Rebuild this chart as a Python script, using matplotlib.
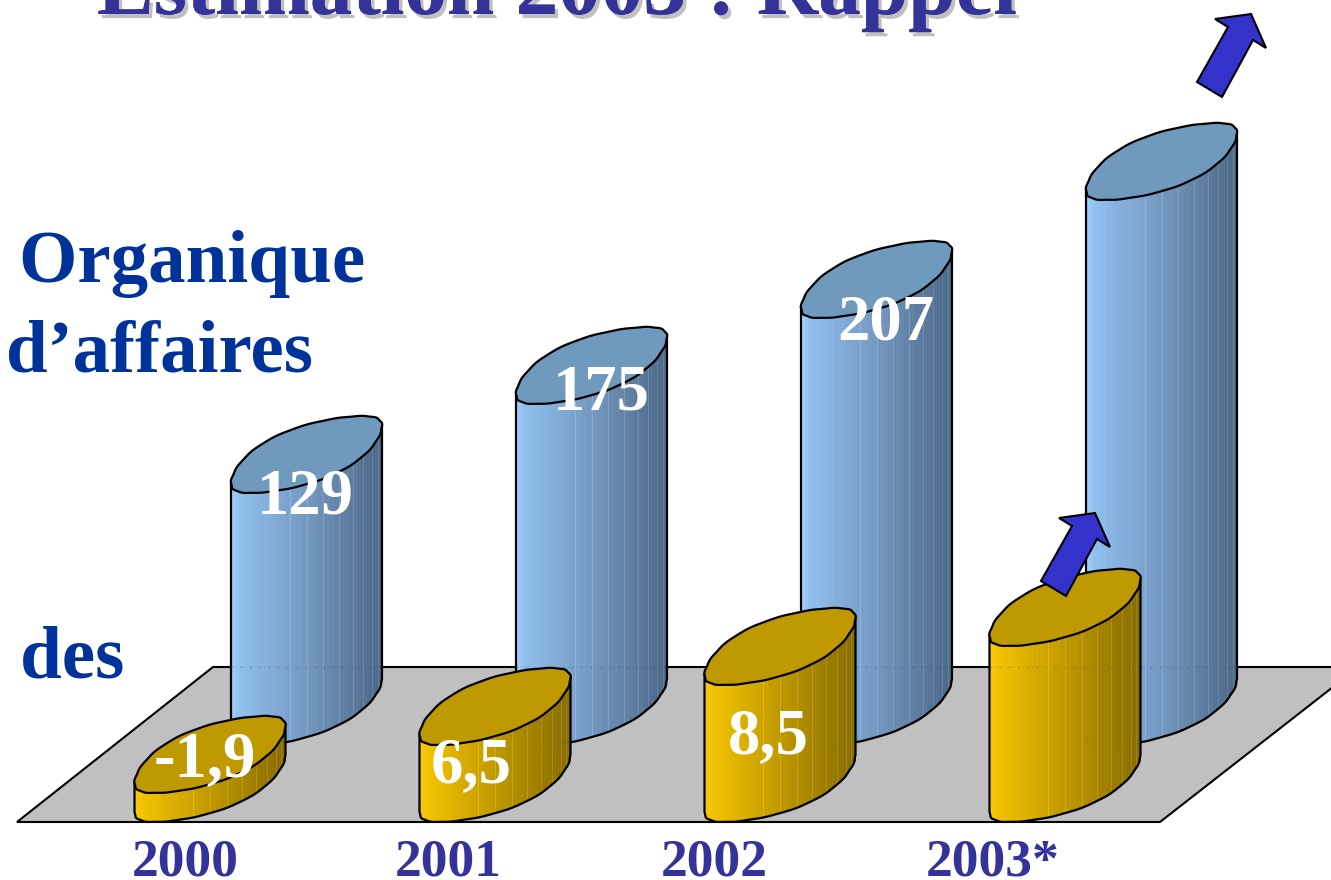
import numpy as np
import matplotlib
matplotlib.use("Agg")
import matplotlib.pyplot as plt
from matplotlib.patches import Polygon
from matplotlib.colors import to_rgb
import matplotlib.patheffects as pe

# ---- data ----
years = ["2000", "2001", "2002", "2003*"]
blue_labels = ["129", "175", "207", None]
gold_labels = ["-1,9", "6,5", "8,5", None]
# drawn column heights (the source chart is not to scale)
blue_heights = [253, 342, 428, 546]
gold_heights = [29, 77, 137, 176]

# ---- layout ----
plt.rcParams["font.family"] = ["Liberation Serif", "DejaVu Serif"]
plt.rcParams["font.weight"] = "bold"
W, H = 1331, 880
STEP = 285.0
GOLD_X0, BLUE_X0 = 134.5, 231.0
GOLD_BASE, BLUE_BASE = 822.0, 746.0
FLOOR_BACK = 667
BW, BH = 151.0, 77.0
ALPHA = 0.76
SQUARE = 0.14
RIPPLE = 0.005
BLACK_LW = 1.6

BLUE_RAMP = [(0.0, "#A3D0FF"), (0.06, "#8FBFEF"), (0.5, "#7398C0"), (1.0, "#4C6786")]
GOLD_RAMP = [(0.0, "#FFCC00"), (0.06, "#F2C200"), (0.5, "#C09900"), (1.0, "#876C00")]
BLUE_TOP, GOLD_TOP = "#7099BE", "#BF9900"
TITLE_C, YEAR_C, SIDE_C = "#333399", "#333399", "#003399"
ARROW_C = "#3333CC"

fig = plt.figure(figsize=(W / 100, H / 100), dpi=100, facecolor="white")
ax = fig.add_axes([0, 0, 1, 1])
ax.set_xlim(0, W)
ax.set_ylim(H, 0)
ax.axis("off")


def ramp(u, stops):
    xs = [s[0] for s in stops]
    cs = np.array([to_rgb(s[1]) for s in stops])
    return tuple(np.interp(u, xs, cs[:, k]) for k in range(3))


def fuller(v):
    return v * (1 + SQUARE * (1 - v ** 2))


def outline(t, x, bottom):
    """Slanted, slightly squared footprint; `bottom` is the y of its lowest point."""
    cy = bottom - BH / 2
    r = 1 + RIPPLE * np.sin(17 * t)
    return (x + BW / 2 + BW / 2 * fuller(np.cos(t)) * r,
            cy - BH / 2 * fuller(np.sin(t + ALPHA)) * r)


def column(x, base, height, stops, top_c, z, floor_line=False):
    top_bottom = base - height
    t = np.linspace(np.pi, 2 * np.pi, 49)
    xb, yb = outline(t, x, base)
    xt, yt = outline(t, x, top_bottom)
    xb[0], xb[-1] = x, x + BW
    xt[0], xt[-1] = x, x + BW
    for i in range(len(t) - 1):
        u = (xb[i] + xb[i + 1] - 2 * x) / (2 * BW)
        c = ramp(u, stops)
        ax.add_patch(Polygon([(xt[i], yt[i]), (xt[i + 1], yt[i + 1]),
                              (xb[i + 1], yb[i + 1]), (xb[i], yb[i])],
                             closed=True, fc=c, ec=c, lw=0.4, zorder=z))
    for i in range(3, len(t) - 1, 3):
        u = (xb[i] - x) / BW
        if u > 0.3:
            light = tuple(min(1, v + 0.08) for v in ramp(u, stops))
            ax.plot([xt[i], xb[i]], [yt[i], yb[i]], color=light, lw=0.7, zorder=z + 0.1)
    if floor_line:
        ax.plot([x, x + BW], [FLOOR_BACK, FLOOR_BACK], color="#33415a", lw=0.7, alpha=0.5,
                dashes=(1.5, 8), zorder=z + 0.15)
    ax.plot(np.r_[xt[0], xb, xt[-1]], np.r_[yt[0], yb, yt[-1]], color="black",
            lw=BLACK_LW, zorder=z + 0.2, solid_joinstyle="round")
    ta = np.linspace(0, 2 * np.pi, 120)
    xa, ya = outline(ta, x, top_bottom)
    ax.add_patch(Polygon(np.c_[xa, ya], closed=True, fc=top_c, ec="black",
                         lw=BLACK_LW, zorder=z + 0.3, joinstyle="round"))


# floor
floor = [(17, GOLD_BASE), (1160, GOLD_BASE), (W + 2, 687), (W + 2, FLOOR_BACK), (213, FLOOR_BACK)]
ax.add_patch(Polygon(floor, closed=True, fc="#C0C0C0", ec="black", lw=1.5, zorder=1))

# columns, back to front per category
for i in range(len(years)):
    column(BLUE_X0 + i * STEP, BLUE_BASE, blue_heights[i], BLUE_RAMP, BLUE_TOP, 2 + i, floor_line=True)
for i in range(len(years)):
    column(GOLD_X0 + i * STEP, GOLD_BASE, gold_heights[i], GOLD_RAMP, GOLD_TOP, 7 + i,
           floor_line=gold_heights[i] > 160)

# arrows
ARROW = np.array([(0, 0), (25, 15), (56, -42), (69, -34), (54, -68), (18, -63), (31, -55)], float)
for ox, oy, z in [(1197, 82, 12), (1041, 581, 12)]:
    ax.add_patch(Polygon(ARROW + (ox, oy), closed=True, fc=ARROW_C, ec="black",
                         lw=1.5, zorder=z, joinstyle="miter"))

# value labels
blue_label_pos = [(305, 513), (601, 409), (886, 340)]
gold_label_pos = [(205, 776), (471, 782), (768, 753)]
for s, (x, y) in zip(blue_labels[:3], blue_label_pos):
    ax.text(x, y, s, color="white", fontsize=46.5, ha="center", va="baseline", zorder=20)
for s, (x, y) in zip(gold_labels[:3], gold_label_pos):
    ax.text(x, y, s, color="white", fontsize=46.5, ha="center", va="baseline", zorder=20)

# category labels
year_x = [185, 448, 714, 993]
for s, x in zip(years, year_x):
    ax.text(x, 876, s, color=YEAR_C, fontsize=38.5, ha="center", va="baseline", zorder=20)

# left-hand text, cut off by the picture edge
ax.text(365, 282, "e Organique", color=SIDE_C, fontsize=54, ha="right", va="baseline", clip_on=False)
ax.text(313, 372, "d’affaires", color=SIDE_C, fontsize=54, ha="right", va="baseline", clip_on=False)
ax.text(124, 677, "e des", color=SIDE_C, fontsize=54, ha="right", va="baseline", clip_on=False)

# title, cut off by the top edge
ax.text(97, 14, "Estimation 2003 : Rappel", color=TITLE_C, fontsize=61.3, ha="left", va="baseline",
        path_effects=[pe.withSimplePatchShadow(offset=(2.5, -3), shadow_rgbFace="#C0C0C0", alpha=1.0),
                      pe.Normal()], zorder=20)

fig.savefig("out.png", dpi=100, facecolor="white")
